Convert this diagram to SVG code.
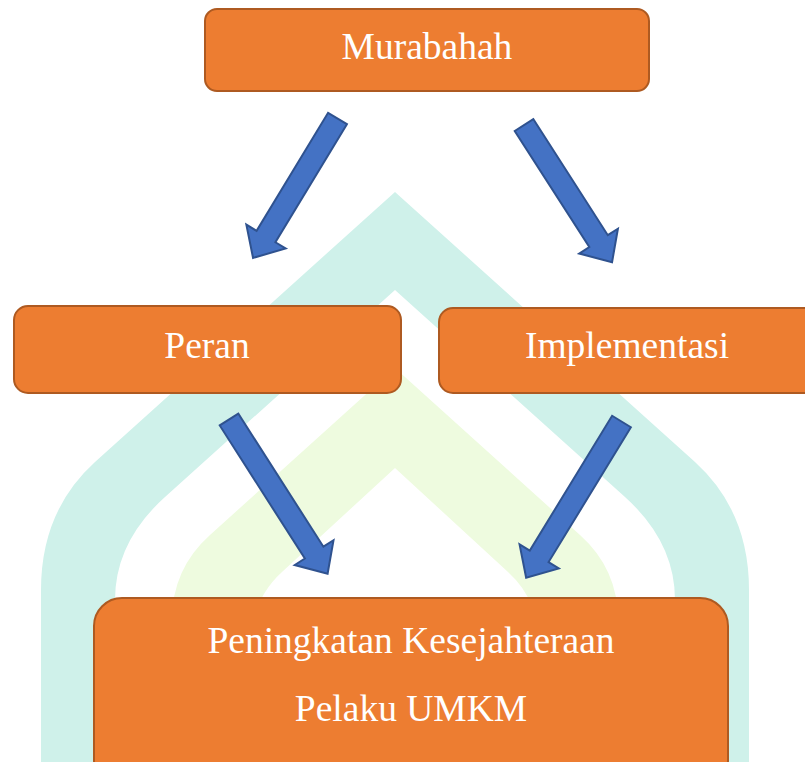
<svg xmlns="http://www.w3.org/2000/svg" width="805" height="762" viewBox="0 0 805 762">
<style>
.box{fill:#ED7D31;stroke:#AE5A21;stroke-width:2}
.lbl{font-family:"Liberation Serif","Times New Roman",serif;font-size:37.5px;fill:#FFFFFF;text-anchor:middle}
.arr{fill:#4472C4;stroke:#2F528F;stroke-width:2;stroke-linejoin:miter}
</style>
<rect width="805" height="762" fill="#FFFFFF"/>
<g id="watermark">
<path fill="#CFF1EA" fill-rule="evenodd" d="M41,762 V590 Q41,511 95,462 L395,192 L695,462 Q749,511 749,590 V762 Z M115,762 V600 Q115,542 165,497 L395,290 L625,497 Q675,542 675,600 V762 Z"/>
<path fill="#EEFBDF" fill-rule="evenodd" d="M172,762 V620 Q172,569 210,535 L395,368 L580,535 Q618,569 618,620 V762 Z M250,762 V650 Q250,601 282,572 L395,468 L508,572 Q540,601 540,650 V762 Z"/>
</g>
<g id="connectors">
<path class="arr" transform="translate(337.5,118.5) rotate(121.2)" d="M0,-11 H138 V-23 L163,0 L138,23 V11 H0 Z"/>
<path class="arr" transform="translate(524,125) rotate(57.3)" d="M0,-11 H138 V-23 L163,0 L138,23 V11 H0 Z"/>
<path class="arr" transform="translate(229,419.5) rotate(57.4)" d="M0,-11 H158 V-23 L183,0 L158,23 V11 H0 Z"/>
<path class="arr" transform="translate(621.5,421.5) rotate(121.4)" d="M0,-11 H158 V-23 L183,0 L158,23 V11 H0 Z"/>
</g>
<g id="murabahah">
<rect class="box" x="205" y="9" width="444" height="82" rx="12"/>
<text class="lbl" x="427" y="59">Murabahah</text>
</g>
<g id="peran">
<rect class="box" x="14" y="306" width="387" height="87" rx="14"/>
<text class="lbl" x="207" y="358">Peran</text>
</g>
<g id="implementasi">
<rect class="box" x="439" y="308" width="380" height="85" rx="14"/>
<text class="lbl" x="627" y="358">Implementasi</text>
</g>
<g id="peningkatan">
<rect class="box" x="94" y="598" width="634" height="190" rx="28"/>
<text class="lbl" x="411" y="653">Peningkatan Kesejahteraan</text>
<text class="lbl" x="411" y="721">Pelaku UMKM</text>
</g>
</svg>
